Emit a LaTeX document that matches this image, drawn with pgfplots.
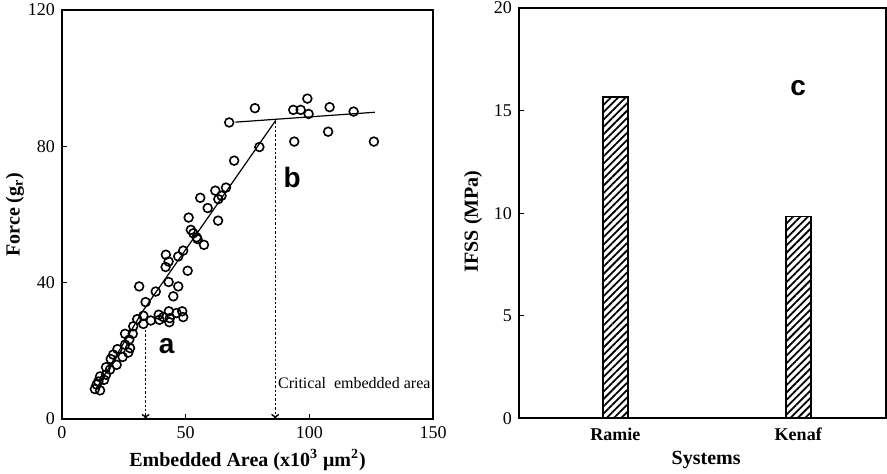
\documentclass[border=0pt]{standalone}
\usepackage{pgfplots}
\pgfplotsset{compat=1.18}
\usepackage{fontspec}
\setmainfont{Liberation Serif}
\newfontfamily\sansb{Liberation Sans}
\usetikzlibrary{patterns.meta,arrows.meta}
\begin{document}
\begin{tikzpicture}
\useasboundingbox (0,0) rectangle (443.5pt,236.5pt);
\pgfplotsset{
  common/.style={
    scale only axis,
    anchor=south west,
    axis line style={line width=1.1pt},
    tick style={line width=0.6pt, black},
    major tick length=2.5pt,
    tick align=inside,
    xtick pos=bottom, ytick pos=left,
    /pgf/number format/assume math mode=true,
    tick label style={font=\fontsize{9}{10}\selectfont},
  }
}
% ---------- left panel ----------
\begin{axis}[common,
  at={(31pt,27pt)},
  width=185.5pt, height=204.5pt,
  xmin=0, xmax=150, ymin=0, ymax=120,
  xtick={0,50,100,150}, ytick={0,40,80,120},
  xlabel={Embedded Area (x10\textsuperscript{3} μm\textsuperscript{2})},
  ylabel={Force (g\textsubscript{r})},
  every axis x label/.style={at={(axis description cs:0.5,0)},anchor=center,yshift=-20.5pt,font=\fontsize{10}{11}\selectfont\bfseries},
  every axis y label/.style={at={(axis description cs:0,0.5)},anchor=center,xshift=-23.5pt,rotate=90,font=\fontsize{10}{11}\selectfont\bfseries},
  clip=false,
]
\addplot[only marks, mark=o, mark size=2.2pt, mark options={line width=0.8pt, black}] coordinates {
(67.6,87.0)(78.0,91.2)(93.5,90.7)(96.5,90.7)(99.2,94.0)(99.7,89.5)(108.2,91.5)(117.9,90.2)(93.9,81.4)(107.6,84.3)(126.1,81.4)
(79.8,79.8)(69.6,75.8)(55.9,64.9)(62.0,67.0)(66.3,67.9)(64.5,65.5)(63.2,64.5)(58.9,61.9)(51.2,59.1)(63.1,58.2)(52.1,55.5)(54.4,53.3)(53.1,54.5)(54.8,52.8)(57.4,51.1)(49.0,49.4)(42.0,48.2)(43.1,46.2)(47.0,47.7)(41.9,44.6)(50.8,43.5)(43.1,40.2)(47.0,38.9)(45.0,36.0)(31.2,38.9)(37.9,37.4)(33.8,34.3)
(32.9,30.3)(32.9,27.9)(35.9,28.9)(39.1,30.6)(39.4,29.1)(43.2,31.6)(43.6,29.6)(43.4,28.4)(46.3,31.1)(48.6,31.6)(49.0,29.9)(41.0,29.9)
(30.4,29.3)(28.8,27.2)(28.6,25.0)(25.5,25.0)(27.2,23.3)(27.5,20.8)(25.5,21.8)(26.8,19.5)(22.4,20.5)(24.5,18.2)(19.7,17.6)(22.1,15.9)(17.8,15.2)(19.4,14.5)(17.8,13.0)(15.4,12.5)(14.7,11.0)(17.0,11.5)(13.3,8.8)(15.4,8.4)(14.0,10.1)(20.7,18.9)
};
\addplot[black, line width=0.6pt] coordinates {(14,9) (32.5,31.5) (86.4,87.6)};
\addplot[black, line width=0.6pt] coordinates {(70.1,87.1) (126.5,90.0)};
\addplot[black, line width=0.7pt, dash pattern=on 1.2pt off 1pt, -{To[length=2.5pt,width=4pt]}] coordinates {(33.8,26.2) (33.8,0)};
\addplot[black, line width=0.7pt, dash pattern=on 1.2pt off 1pt, -{To[length=2.5pt,width=4pt]}] coordinates {(86.2,87.4) (86.2,0)};
\node[font=\sansb\bfseries\fontsize{14}{16}\selectfont] at (axis cs:42.3,21.5) {a};
\node[font=\sansb\bfseries\fontsize{14}{16}\selectfont] at (axis cs:93.1,71) {b};
\node[font=\fontsize{8}{9}\selectfont, anchor=west, inner sep=0pt] at (axis cs:87.2,10.6) {Critical\ \ embedded area};
\end{axis}
% ---------- right panel ----------
\begin{axis}[common,
  at={(259.5pt,27.35pt)},
  width=183.5pt, height=205.15pt,
  xmin=-0.527, xmax=1.48, ymin=0, ymax=20,
  xtick={0,1}, xticklabels={Ramie,Kenaf},
  ytick={0,5,10,15,20},
  major x tick style={draw=none},
  xticklabel style={font=\fontsize{9}{10}\selectfont\bfseries, text height=1.6ex, text depth=0.25ex},
  xlabel={Systems}, ylabel={IFSS (MPa)},
  every axis x label/.style={at={(axis description cs:0.51,0)},anchor=center,yshift=-20.8pt,font=\fontsize{10}{11}\selectfont\bfseries},
  every axis y label/.style={at={(axis description cs:0,0.48)},anchor=center,xshift=-23pt,rotate=90,font=\fontsize{10}{11}\selectfont\bfseries},
  clip=false,
]
\addplot[ybar, bar width=12.5pt, draw=black, line width=0.8pt,
  pattern={Lines[angle=45,distance=2.6pt,line width=0.9pt]}] coordinates {(0,15.67) (1,9.83)};
\node[font=\sansb\bfseries\fontsize{14}{16}\selectfont] at (axis cs:1.0,16.1) {c};
\end{axis}
\end{tikzpicture}
\end{document}
